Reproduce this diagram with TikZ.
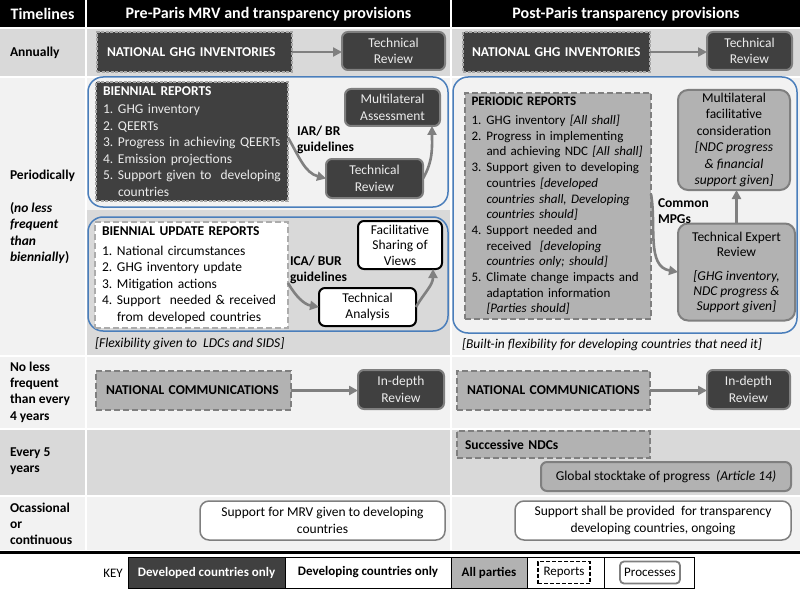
\documentclass[tikz,border=0pt]{standalone}
\usepackage{fontspec}
\setmainfont{Carlito}
\usetikzlibrary{arrows.meta}
\definecolor{dk}{HTML}{404040}
\definecolor{md}{HTML}{B2B2B2}
\definecolor{rowg}{HTML}{D9D9D9}
\definecolor{rowl}{HTML}{F2F2F2}
\definecolor{edg}{HTML}{7F7F7F}
\definecolor{bl}{HTML}{4A7EBB}
\definecolor{arg}{HTML}{808080}
\newcommand\fsz[2]{\fontsize{#1}{#2}\selectfont}
\newcommand\nl{\hfil\break}
\newcommand\myitem[2]{\par\hangindent=15pt\hangafter=1\noindent\makebox[15pt][l]{#1}#2\par}
\newcommand\mytitle[2][2pt]{\noindent\textbf{#2}\par\vspace{#1}}
\begin{document}
\begin{tikzpicture}[x=1pt,y=-1pt,
 every node/.style={inner sep=0pt,outer sep=0pt,font=\fsz{13.5}{16.5}},
 darkrep/.style={draw=gray!70, line width=1.6pt, dash pattern=on 3pt off 1.5pt, fill=dk, text=white},
 darkproc/.style={draw=edg, line width=2pt, rounded corners=6pt, fill=dk, text=gray!15, align=center},
 midrep/.style={draw=edg, line width=1.8pt, dash pattern=on 6pt off 3pt, fill=md},
 midproc/.style={draw=edg, line width=2pt, rounded corners=10pt, fill=md, align=center},
 whiterep/.style={draw=gray!65, line width=1.8pt, dash pattern=on 6pt off 3pt, fill=white},
 whiteproc/.style={draw=black, line width=2pt, rounded corners=6pt, fill=white, align=center},
 supbox/.style={draw=edg, line width=1.5pt, rounded corners=9pt, fill=white, align=center},
 grp/.style={draw=bl, line width=1.5pt, rounded corners=15pt},
 arr/.style={draw=arg, line width=2.6pt, -{Triangle[length=9pt,width=9pt]}},
 lbl/.style={font=\bfseries\fsz{13.5}{16.3}, align=left, anchor=west},
 hdr/.style={font=\bfseries\fsz{16}{19}, text=white},
 guide/.style={font=\bfseries\fsz{13.5}{16}, align=left, anchor=west},
 keycell/.style={draw=black, line width=0.8pt, minimum height=31pt, font=\fsz{13}{16}},
 sz/.style 2 args={minimum width=#1pt, minimum height=#2pt}]

% ---------- background table ----------
\useasboundingbox (0,0) rectangle (800,591);
\fill[white] (0,0) rectangle (800,591);
\fill[black] (0,0) rectangle (85,27.5);
\fill[black] (87,0) rectangle (450,27.5);
\fill[black] (452,0) rectangle (800,27.5);
\foreach \ya/\yb/\c in {29.5/76/rowg, 78/355/rowl, 357/428/rowl, 430/495/rowg, 497/550/rowl}{
  \fill[\c] (0,\ya) rectangle (85,\yb);
  \fill[\c] (87,\ya) rectangle (450,\yb);
  \fill[\c] (452,\ya) rectangle (800,\yb);
}
\fill[rowg] (87,210) rectangle (450,355);
\fill[black] (0,550.5) rectangle (800,553.5);

% ---------- headers ----------
\node[hdr] (hTime) at (42.5,14) {Timelines};
\node[hdr] (hPre) at (268.5,14) {Pre-Paris MRV and transparency provisions};
\node[hdr] (hPost) at (626,14) {Post-Paris transparency provisions};

% ---------- row labels ----------
\node[lbl] (lAnn) at (10,53) {Annually};
\node[lbl] (lPer) at (10,217) {Periodically\\[16.3pt](\textit{no less}\\\textit{frequent}\\\textit{than}\\\textit{biennially})};
\node[lbl] (lFour) at (10,392) {No less\\frequent\\than every\\4 years};
\node[lbl] (lFive) at (10,461.5) {Every 5\\years};
\node[lbl] (lOcc) at (10,524) {Ocassional\\or\\continuous};

% ---------- annual ----------
\node[darkrep, sz={195}{40}, font=\bfseries\fsz{13.5}{16}, text width=175pt, align=left] (ngiL) at (194.5,52) {NATIONAL GHG INVENTORIES};
\node[darkproc, sz={103}{38}] (trAL) at (393.5,51) {Technical\\Review};
\node[darkrep, sz={187}{40}, font=\bfseries\fsz{13.5}{16}, text width=169pt, align=left] (ngiR) at (556.5,52) {NATIONAL GHG INVENTORIES};
\node[darkproc, sz={85}{38}] (trAR) at (749.5,51) {Technical\\Review};
\draw[arr] (ngiL.east) -- (ngiL.east -| trAL.west);
\draw[arr] (ngiR.east) -- (ngiR.east -| trAR.west);

% ---------- biennial reports ----------
\draw[grp] (88,77) rectangle (448,207);
\node[darkrep, sz={192}{119}, text width=178pt, align=left, text=gray!15] (br) at (192,141.5)
 {\mytitle[1.5pt]{\color{white}BIENNIAL REPORTS}%
  \myitem{1.}{GHG inventory}\myitem{2.}{QEERTs}\myitem{3.}{Progress in achieving QEERTs}%
  \myitem{4.}{Emission projections}\myitem{5.}{Support given to\ \ developing\nl countries}};
\node[darkproc, sz={95}{37}] (ma) at (392.5,107.5) {Multilateral\\Assessment};
\node[darkproc, sz={97}{39}] (trB) at (374.5,178.5) {Technical\\Review};
\node[guide] (iar) at (297,140) {IAR/ BR\\guidelines};
\draw[arr] ([yshift=4pt]br.east) to[out=-60,in=165] (trB.west);
\draw[arr] (trB.east) to[out=60,in=-90] ([xshift=-8pt]ma.south east);

% ---------- biennial update reports ----------
\draw[grp] (88,217) rectangle (448,331);
\node[whiterep, sz={193}{106}, text width=179pt, align=left] (bur) at (191.5,275)
 {\mytitle[3pt]{BIENNIAL UPDATE REPORTS}%
  \myitem{1.}{National circumstances}\myitem{2.}{GHG inventory update}\myitem{3.}{Mitigation actions}%
  \myitem{4.}{Support\ \ needed \& received\nl from developed countries}};
\node[whiteproc, sz={84}{48}, font=\fsz{13.5}{15.5}] (fsv) at (400,245) {Facilitative\\Sharing of\\Views};
\node[whiteproc, sz={97}{38}] (ta) at (367.5,307) {Technical\\Analysis};
\node[guide] (ica) at (290,270) {ICA/ BUR\\guidelines};
\draw[arr] ([yshift=-8pt]bur.east) to[out=-60,in=170] (ta.west);
\draw[arr] (ta.east) to[out=60,in=-90] ([xshift=-9pt]fsv.south east);
\node[font=\itshape\fsz{13.5}{16}, anchor=west] (flexL) at (95,344) {[Flexibility given to\ \ LDCs and SIDS]};

% ---------- periodic reports (post-Paris) ----------
\draw[grp] (453,77) rectangle (797,333);
\node[midrep, sz={186}{226}, text width=173pt, align=left, font=\fsz{13}{15.7}] (pr) at (558,206)
 {\mytitle[3pt]{PERIODIC REPORTS}%
  \myitem{1.}{GHG inventory \textit{[All shall]}}%
  \myitem{2.}{Progress in implementing\nl and achieving NDC \textit{[All shall]}}%
  \myitem{3.}{Support given to developing\nl countries \textit{[developed\nl countries shall, Developing\nl countries should]}}%
  \myitem{4.}{Support needed and\nl received\ \ \textit{[developing\nl countries only; should]}}%
  \myitem{5.}{Climate change impacts and\nl adaptation information\nl \textit{[Parties should]}}};
\node[midproc, sz={112}{100}, font=\fsz{13.5}{16.4}] (mfc) at (734,140) {Multilateral\\facilitative\\consideration\\\textit{[NDC progress}\\\textit{\& financial}\\\textit{support given]}};
\node[midproc, sz={117}{97}, font=\fsz{13.5}{15}] (ter) at (736.5,272) {Technical Expert\\Review\\[9pt]\textit{[GHG inventory,}\\\textit{NDC progress \&}\\\textit{Support given]}};
\node[guide] (mpg) at (658,211) {Common\\MPGs};
\draw[arr] ([yshift=12pt]pr.east) to[out=-80,in=170] (ter.west);
\draw[arr] (ter.north) -- (ter.north |- mfc.south);
\node[font=\itshape\fsz{13.5}{16}, anchor=west] (flexR) at (462,345) {[Built-in flexibility for developing countries that need it]};

% ---------- every 4 years ----------
\node[midrep, sz={195}{39}, font=\bfseries\fsz{13.5}{16}, text width=175pt, align=left] (ncL) at (193.5,390.5) {NATIONAL COMMUNICATIONS};
\node[darkproc, sz={86}{39}] (idL) at (401,389.5) {In-depth\\Review};
\node[midrep, sz={193}{39}, font=\bfseries\fsz{13.5}{16}, text width=173pt, align=left] (ncR) at (553.5,390.5) {NATIONAL COMMUNICATIONS};
\node[darkproc, sz={83}{39}] (idR) at (748.5,389.5) {In-depth\\Review};
\draw[arr] (ncL.east) -- (ncL.east -| idL.west);
\draw[arr] (ncR.east) -- (ncR.east -| idR.west);

% ---------- every 5 years ----------
\node[midrep, sz={193}{27}, font=\bfseries\fsz{13.5}{16}, text width=177pt, align=left] (sndc) at (553.5,444.5) {Successive NDCs};
\node[midproc, rounded corners=6pt, sz={250}{29}] (gst) at (666,476.5) {Global stocktake of progress\ \ \textit{(Article 14)}};

% ---------- occasional ----------
\node[supbox, sz={245}{39}] (supL) at (322.5,520.5) {Support for MRV given to developing\\countries};
\node[supbox, sz={276}{39}] (supR) at (653,520.5) {Support shall be provided\ \ for transparency\\developing countries, ongoing};

% ---------- key ----------
\node[font=\fsz{13}{16}] (keyLbl) at (113,573) {KEY};
\node[keycell, fill=dk, text=white, font=\bfseries\fsz{13}{16}, minimum width=157pt] (kDev) at (206.5,572.5) {Developed countries only};
\node[keycell, fill=white, font=\bfseries\fsz{13}{16}, minimum width=166pt] (kDvg) at (368,572.5) {Developing countries only};
\node[keycell, fill=md, font=\bfseries\fsz{13}{16}, minimum width=76pt] (kAll) at (489,572.5) {All parties};
\node[keycell, fill=white, minimum width=77pt] (kRepCell) at (565.5,572.5) {};
\node[draw=black, line width=1.8pt, dash pattern=on 4pt off 2pt, sz={52}{22}, font=\fsz{13}{16}] (kRep) at (564,572.5) {Reports};
\node[keycell, fill=white, minimum width=90pt] (kProcCell) at (649,572.5) {};
\node[draw=edg, line width=1.8pt, rounded corners=4pt, sz={60}{22}, font=\fsz{13}{16}] (kProc) at (650,572.5) {Processes};
\end{tikzpicture}
\end{document}
